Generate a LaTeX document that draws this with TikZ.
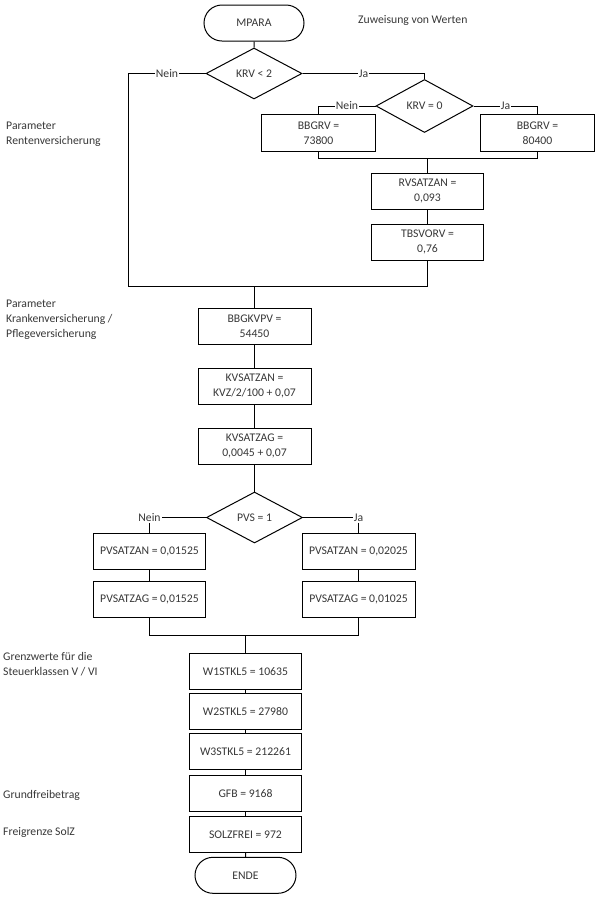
\documentclass[tikz,border=0pt]{standalone}
\usepackage{fontspec}
\setmainfont{Carlito}
\usetikzlibrary{shapes.geometric,shapes.misc}
\begin{document}
\begin{tikzpicture}[x=1pt,y=-1pt,
  font=\fontsize{11.7}{15}\selectfont,
  every node/.style={text=black!78},
  conn/.style={draw=black, line width=1pt},
  box/.style={draw=black, line width=1pt, rectangle, minimum width=113pt, minimum height=36pt, inner sep=1pt, align=center},
  term/.style={draw=black, line width=1pt, rounded rectangle, minimum width=102pt, minimum height=36pt, inner sep=1pt},
  dec/.style={draw=black, line width=1pt, diamond, minimum width=96pt, minimum height=51pt, inner sep=0pt},
  lbl/.style={fill=white, inner sep=1pt},
  note/.style={align=left, anchor=west, inner sep=0pt}]
\fill[white] (0,0) rectangle (598,898);
\useasboundingbox (0,0) rectangle (598,898);

% notes
\node[note] (zw) at (358,20) {Zuweisung von Werten};
\node[note] (nrv) at (6,134.5) {Parameter\\Rentenversicherung};
\node[note] (nkv) at (6,320) {Parameter\\Krankenversicherung /\\Pflegeversicherung};
\node[note] (ngw) at (3,664.5) {Grenzwerte für die\\Steuerklassen V / VI};
\node[note] (ngf) at (3,795.7) {Grundfreibetrag};
\node[note] (nsz) at (3,832) {Freigrenze SolZ};

% nodes
\node[term] (mpara) at (254,23) {MPARA};
\node[dec] (krv2) at (254,73.5) {KRV < 2};
\node[dec, minimum width=97pt, minimum height=53pt] (krv0) at (424.5,106) {KRV = 0};
\node[box, minimum width=114pt, minimum height=37pt] (bb1) at (318.5,133.3) {BBGRV =\\73800};
\node[box, minimum width=114pt, minimum height=37pt] (bb2) at (537.5,133.3) {BBGRV =\\80400};
\node[box, minimum width=112pt] (rvs) at (427.5,191.3) {RVSATZAN =\\0,093};
\node[box, minimum width=112pt] (tbs) at (427.5,242.2) {TBSVORV =\\0,76};
\node[box] (bbg) at (254.5,326.3) {BBGKVPV =\\54450};
\node[box] (kvan) at (254.5,386.3) {KVSATZAN =\\KVZ/2/100 + 0,07};
\node[box] (kvag) at (254.5,446.3) {KVSATZAG =\\0,0045 + 0,07};
\node[dec] (pvs) at (254.5,517.5) {PVS = 1};
\node[inner sep=1pt] (pn) at (149.5,517.5) {Nein};
\node[inner sep=1pt] (pj) at (358.5,517.5) {Ja};
\node[box, minimum width=112pt] (pan1) at (149.5,551.3) {PVSATZAN = 0,01525};
\node[box, minimum width=112pt] (pag1) at (149.5,599.2) {PVSATZAG = 0,01525};
\node[box] (pan2) at (358.5,551.3) {PVSATZAN = 0,02025};
\node[box] (pag2) at (358.5,599.2) {PVSATZAG = 0,01025};
\node[box, minimum width=112pt] (w1) at (245.5,671.3) {W1STKL5 = 10635};
\node[box, minimum width=112pt] (w2) at (245.5,711.3) {W2STKL5 = 27980};
\node[box, minimum width=112pt] (w3) at (245.5,751.3) {W3STKL5 = 212261};
\node[box, minimum width=112pt] (gfb) at (245.5,793.3) {GFB = 9168};
\node[box, minimum width=112pt] (solz) at (245.5,834.5) {SOLZFREI = 972};
\node[term, minimum width=103pt] (ende) at (245.5,875.3) {ENDE};

% junction coordinates
\coordinate (lft) at (128.5,286.5);
\coordinate (m1) at (254.5,286.5);
\coordinate (m2) at (427.5,158.5);
\coordinate (m3) at (245.5,635.5);

% connectors
\draw[conn] (mpara) -- (krv2);
\draw[conn] (krv2.west) -| node[lbl,pos=0.25]{Nein} (lft);
\draw[conn] (krv2.east) -| node[lbl,pos=0.25]{Ja} (krv0.north);
\draw[conn] (krv0.west) -| node[lbl,pos=0.25]{Nein} (bb1.north);
\draw[conn] (krv0.east) -| node[lbl,pos=0.25]{Ja} (bb2.north);
\draw[conn] (bb1.south) |- (m2) -| (bb2.south);
\draw[conn] (m2) -- (rvs);
\draw[conn] (rvs) -- (tbs);
\draw[conn] (tbs.south) |- (lft);
\draw[conn] (m1) -- (bbg);
\draw[conn] (bbg) -- (kvan);
\draw[conn] (kvan) -- (kvag);
\draw[conn] (kvag) -- (pvs);
\draw[conn] (pvs.west) -- (pn.east);
\draw[conn] (pn.south) -- (pan1.north);
\draw[conn] (pvs.east) -- (pj.west);
\draw[conn] (pj.south) -- (pan2.north);
\draw[conn] (pan1) -- (pag1);
\draw[conn] (pan2) -- (pag2);
\draw[conn] (pag1.south) |- (m3) -| (pag2.south);
\draw[conn] (m3) -- (w1);
\draw[conn] (w1) -- (w2);
\draw[conn] (w2) -- (w3);
\draw[conn] (w3) -- (gfb);
\draw[conn] (gfb) -- (solz);
\draw[conn] (solz) -- (ende);
\end{tikzpicture}
\end{document}
